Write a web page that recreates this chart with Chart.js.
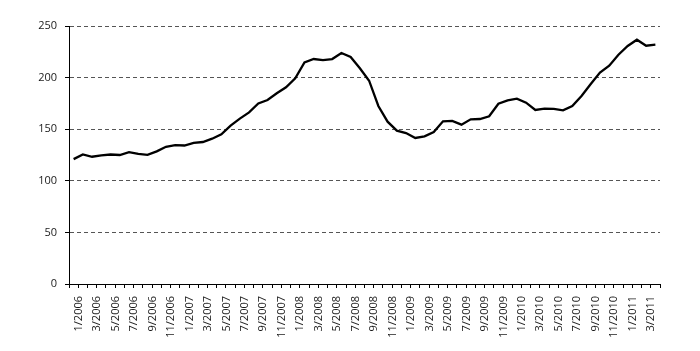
<!DOCTYPE html>
<html>
<head>
<meta charset="utf-8">
<script src="https://cdn.jsdelivr.net/npm/chart.js@4.4.0/dist/chart.umd.min.js"></script>
<style>
html,body{margin:0;padding:0;background:#fff;}
#wrap{width:700px;height:351px;position:relative;}
</style>
</head>
<body>
<div id="wrap"><canvas id="c" width="700" height="351"></canvas></div>
<script>
// Categories: monthly, 1/2006 .. 4/2011
const months = [];
for (let y = 2006; y <= 2011; y++) {
  for (let m = 1; m <= 12; m++) {
    if (y === 2011 && m > 4) break;
    months.push(m + '/' + y);
  }
}
const values = [
  121, 125.5, 123.3, 124.7, 125.5, 125, 127.8, 126, 125.2, 128.5, 133, 134.6,
  134.2, 136.8, 137.6, 140.8, 145, 153.5, 160.3, 166.3, 175, 178.3, 184.8, 190.6,
  199.3, 214.8, 218, 217, 218, 223.8, 220, 209, 197, 172.5, 157.3, 148.6,
  146.3, 141.5, 143.1, 147.3, 157.6, 158, 154.4, 159.6, 159.9, 162.5, 174.7, 178,
  179.6, 175.7, 168.6, 169.9, 169.6, 168.3, 172.5, 182.2, 193.8, 204.8, 211.5, 222.2,
  230.6, 236.7, 230.9, 231.9
];
const yTicks = [0, 50, 100, 150, 200, 250];

const FONT = "'Open Sans', 'Noto Sans', sans-serif";

new Chart(document.getElementById('c'), {
  type: 'line',
  data: {
    labels: months,
    datasets: [{
      data: values,
      borderColor: '#000',
      borderWidth: 2.3,
      pointRadius: 0,
      tension: 0,
      fill: false
    }]
  },
  options: {
    responsive: false,
    animation: false,
    devicePixelRatio: 1,
    layout: { padding: { left: 0, right: 40, top: 26, bottom: 0 } },
    plugins: { legend: { display: false }, tooltip: { enabled: false } },
    scales: {
      x: {
        type: 'category',
        offset: true,
        grid: {
          offset: true,
          drawOnChartArea: false,
          drawTicks: true,
          tickLength: 4,
          tickColor: '#000',
          color: '#000'
        },
        border: { display: true, color: '#000', width: 1 },
        ticks: {
          autoSkip: false,
          minRotation: 90,
          maxRotation: 90,
          padding: 8,
          labelOffset: 5,
          color: '#1a1a1a',
          font: { family: FONT, size: 11 },
          callback: function(v, i) { return i % 2 === 0 ? months[i] : ''; }
        },
        afterFit: function(s) { s.height = 67; }
      },
      y: {
        min: 0,
        max: 250,
        afterBuildTicks: function(s) { s.ticks = yTicks.map(v => ({ value: v })); },
        grid: {
          color: '#555',
          lineWidth: 1,
          drawTicks: true,
          tickLength: 4,
          tickColor: '#000',
          tickBorderDash: []
        },
        border: { display: true, color: '#000', width: 1, dash: [4, 3] },
        ticks: {
          padding: 8,
          color: '#1a1a1a',
          font: { family: FONT, size: 11 }
        },
        afterFit: function(s) { s.width = 69; }
      }
    }
  }
});
</script>
</body>
</html>
